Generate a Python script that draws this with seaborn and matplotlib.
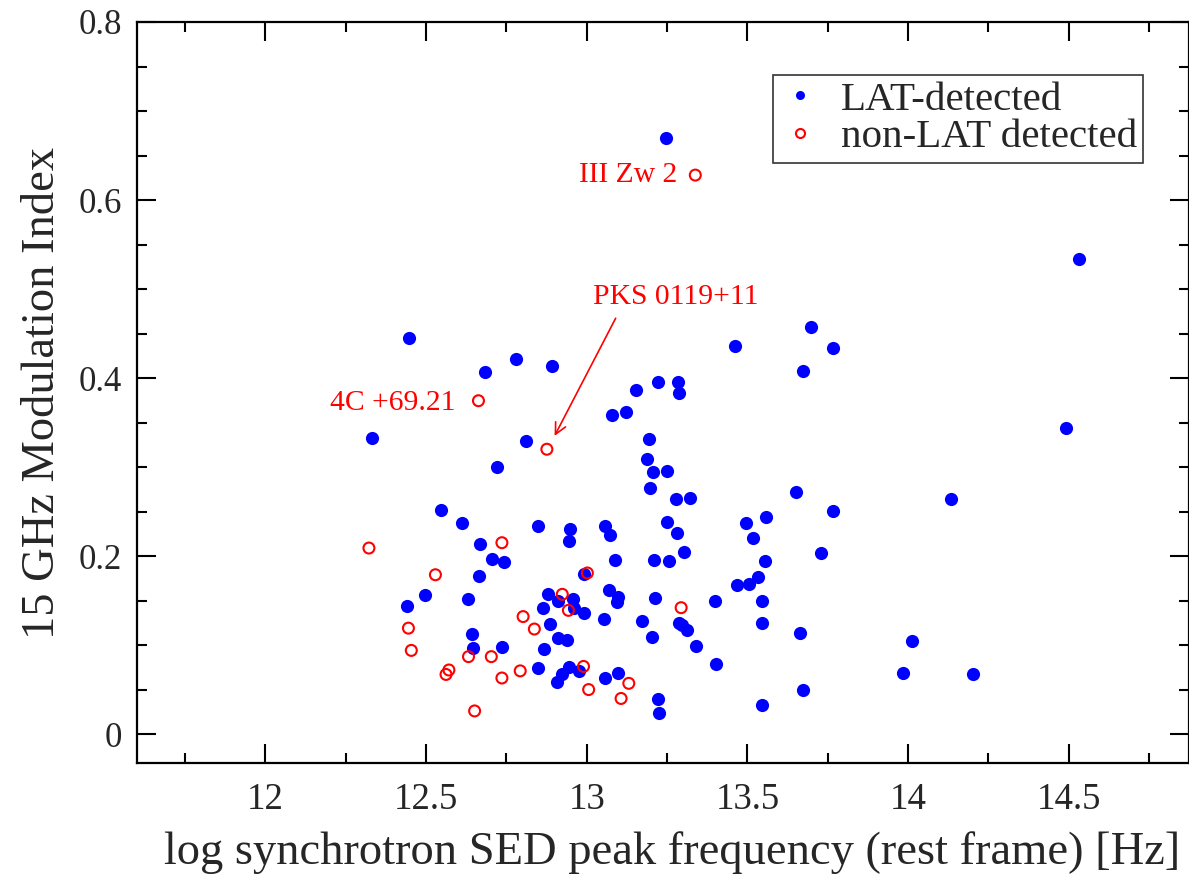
import matplotlib
matplotlib.use("Agg")
import matplotlib.pyplot as plt
import seaborn as sns
import pandas as pd
from matplotlib.lines import Line2D
from matplotlib.ticker import MultipleLocator, FuncFormatter

# LAT-detected sources: log nu_peak (rest frame) and 15 GHz modulation index
lat_x = [12.332, 12.447, 12.684, 12.780, 12.893, 12.812, 12.721, 12.547, 12.612, 12.849,
         12.949, 12.946, 12.668, 12.706, 12.743, 12.665, 12.992, 12.497, 12.880, 12.631,
         12.911, 12.958, 12.959, 12.441, 12.864, 12.992, 12.886, 12.643, 12.911, 12.939,
         12.646, 12.737, 12.868, 12.849, 12.946, 12.924, 12.908, 12.977,
         13.248, 13.154, 13.078, 13.123, 13.223, 13.285, 13.288, 13.193, 13.188, 13.207,
         13.250, 13.196, 13.279, 13.323, 13.057, 13.073, 13.250, 13.282, 13.302, 13.088,
         13.209, 13.256, 13.070, 13.096, 13.094, 13.214, 13.055, 13.173, 13.286, 13.297,
         13.311, 13.204, 13.340, 13.057, 13.098, 13.221, 13.225, 13.399, 13.401,
         13.463, 13.699, 13.766, 13.674, 13.650, 13.768, 13.497, 13.559, 13.517, 13.730,
         13.555, 13.532, 13.468, 13.504, 13.547, 13.545, 13.665, 13.545, 13.672,
         14.533, 14.493, 14.135, 14.013, 13.984, 14.203]
lat_y = [0.333, 0.445, 0.407, 0.421, 0.413, 0.329, 0.300, 0.252, 0.237, 0.234,
         0.230, 0.217, 0.214, 0.197, 0.193, 0.178, 0.180, 0.156, 0.157, 0.152,
         0.149, 0.152, 0.142, 0.144, 0.142, 0.136, 0.124, 0.112, 0.108, 0.106,
         0.097, 0.098, 0.096, 0.074, 0.075, 0.067, 0.058, 0.071,
         0.670, 0.387, 0.358, 0.362, 0.396, 0.396, 0.383, 0.331, 0.309, 0.294,
         0.296, 0.277, 0.264, 0.265, 0.234, 0.224, 0.238, 0.226, 0.205, 0.196,
         0.196, 0.194, 0.162, 0.154, 0.148, 0.153, 0.129, 0.127, 0.125, 0.122,
         0.117, 0.109, 0.099, 0.063, 0.069, 0.039, 0.024, 0.149, 0.079,
         0.436, 0.457, 0.434, 0.408, 0.272, 0.251, 0.237, 0.244, 0.220, 0.203,
         0.194, 0.177, 0.168, 0.169, 0.150, 0.125, 0.114, 0.033, 0.049,
         0.534, 0.344, 0.264, 0.105, 0.069, 0.067]

# non-LAT detected sources
non_x = [12.322, 12.736, 12.529, 13.002, 12.924, 12.943, 12.802, 12.837, 12.445, 12.454,
         12.632, 12.703, 12.571, 12.562, 12.736, 12.793, 12.990, 13.006, 12.651, 13.294,
         13.131, 13.107, 12.663, 12.876, 13.338]
non_y = [0.209, 0.215, 0.179, 0.181, 0.157, 0.139, 0.132, 0.118, 0.119, 0.094,
         0.087, 0.087, 0.072, 0.067, 0.063, 0.071, 0.076, 0.050, 0.026, 0.142,
         0.057, 0.040, 0.3745, 0.320, 0.628]

x_ticks = [12, 12.5, 13, 13.5, 14, 14.5]
y_ticks = [0, 0.2, 0.4, 0.6, 0.8]

lat_df = pd.DataFrame({"nu": lat_x, "m": lat_y})
non_df = pd.DataFrame({"nu": non_x, "m": non_y})

sns.set_style("ticks")
plt.rcParams["font.family"] = ["Liberation Serif", "DejaVu Serif"]

BLUE = "#0000ff"
RED = "#ff0000"

fig = plt.figure(figsize=(11.89, 8.75), dpi=100)
ax = fig.add_axes([137 / 1189, 1 - 763 / 875, (1189 - 137) / 1189, (763 - 22) / 875])

sns.scatterplot(data=lat_df, x="nu", y="m", ax=ax, color=BLUE, s=90,
                linewidth=0, marker="o", legend=False, zorder=3)
sns.scatterplot(data=non_df, x="nu", y="m", ax=ax, color=RED, facecolor="none",
                edgecolor=RED, s=62, linewidth=1.5, marker="o", legend=False, zorder=4)

ax.set_xlim(11.6, 14.875)
ax.set_ylim(-0.0325, 0.8)
ax.set_xticks(x_ticks)
ax.set_yticks(y_ticks)
ax.xaxis.set_minor_locator(MultipleLocator(0.25))
ax.yaxis.set_minor_locator(MultipleLocator(0.05))
ax.xaxis.set_major_formatter(FuncFormatter(lambda v, p: f"{v:g}"))
ax.yaxis.set_major_formatter(FuncFormatter(lambda v, p: f"{v:g}"))
ax.tick_params(which="both", direction="in", top=True, right=True, width=1.5, color="black")
ax.tick_params(axis="x", which="major", length=14, pad=14, labelsize=26.5)
ax.tick_params(axis="y", which="major", length=14, pad=11, labelsize=25)
ax.tick_params(which="minor", length=7)
for sp in ax.spines.values():
    sp.set_linewidth(1.6)
    sp.set_color("black")

ax.set_xlabel("log synchrotron SED peak frequency (rest frame) [Hz]", fontsize=33.5, labelpad=9)
ax.xaxis.set_label_coords(0.509, -0.092)
ax.set_ylabel("15 GHz Modulation Index", fontsize=33.5, labelpad=10)

# annotations
ax.text(13.282, 0.628, "III Zw 2", color=RED, fontsize=21.3, ha="right", va="center")
ax.text(12.593, 0.372, "4C +69.21", color=RED, fontsize=21.3, ha="right", va="center")
ax.annotate("PKS 0119+11", xy=(12.90, 0.335), xytext=(13.276, 0.491),
            color=RED, fontsize=21.3, ha="center", va="center",
            arrowprops=dict(arrowstyle="->", color=RED, lw=1.2, shrinkA=4, shrinkB=0,
                            relpos=(0.165, 0.0), mutation_scale=20))

handles = [
    Line2D([], [], linestyle="none", marker="o", markersize=6.5, color=BLUE,
           markeredgewidth=0, label="LAT-detected"),
    Line2D([], [], linestyle="none", marker="o", markersize=6.5, markerfacecolor="none",
           markeredgecolor=RED, markeredgewidth=1.5, label="non-LAT detected"),
]
leg = ax.legend(handles=handles, loc="upper left", bbox_to_anchor=(0.6046, 0.9285),
                borderaxespad=0, fontsize=29.5, frameon=True, fancybox=False,
                handlelength=1.0, handletextpad=0.5, borderpad=0.15, labelspacing=0.0)
leg.get_frame().set_edgecolor("black")
leg.get_frame().set_linewidth(1.2)

fig.savefig("out.png", dpi=100)
